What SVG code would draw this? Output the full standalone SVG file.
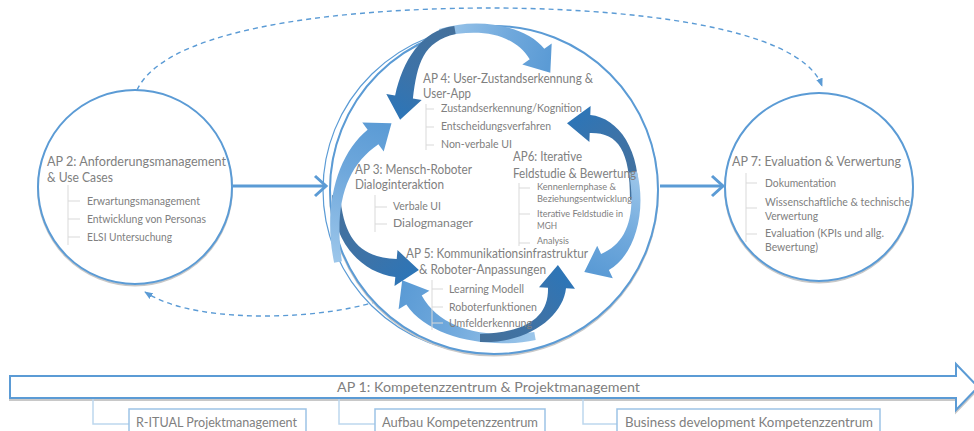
<svg xmlns="http://www.w3.org/2000/svg" width="974" height="431" viewBox="0 0 974 431">
  <style>
    .ring { fill: #ffffff; stroke: #5b9bd5; stroke-width: 2; }
    .ring-shadow { fill: none; stroke: #c8c8c8; stroke-width: 2; }
    text { font-family: Lato, "Liberation Sans", sans-serif; fill: #808080; }
    .head { font-size: 13.5px; }
    .item { font-size: 10.5px; }
    .small { font-size: 9.5px; }
    .tree { fill: none; stroke: #d9d9d9; stroke-width: 1; }
    .flow { fill: none; stroke: #5b9bd5; stroke-width: 3; }
    .dash { fill: none; stroke: #5b9bd5; stroke-width: 1.4; stroke-dasharray: 5 4; }
    .bar { font-size: 14px; }
    .box { fill: #ffffff; stroke: #9dc3e6; stroke-width: 1.5; }
    .link { fill: none; stroke: #bdd7ee; stroke-width: 1.5; }
  </style>
  <defs>
    <linearGradient id="lightStops">
      <stop offset="0" stop-color="#9cc6ea"/>
      <stop offset="0.6" stop-color="#6fa8dc"/>
      <stop offset="1" stop-color="#5b9bd5"/>
    </linearGradient>
    <linearGradient id="darkStops">
      <stop offset="0" stop-color="#44709b"/>
      <stop offset="0.6" stop-color="#3d73a8"/>
      <stop offset="1" stop-color="#2e75b6"/>
    </linearGradient>
    <linearGradient id="gT1" href="#darkStops" gradientUnits="userSpaceOnUse" x1="455" y1="30" x2="402" y2="115"/>
    <linearGradient id="gT2" href="#lightStops" gradientUnits="userSpaceOnUse" x1="440" y1="33" x2="548" y2="66"/>
    <linearGradient id="gR1" href="#darkStops" gradientUnits="userSpaceOnUse" x1="634" y1="200" x2="570" y2="124"/>
    <linearGradient id="gR2" href="#lightStops" gradientUnits="userSpaceOnUse" x1="633" y1="172" x2="588" y2="268"/>
    <linearGradient id="gB1" href="#darkStops" gradientUnits="userSpaceOnUse" x1="480" y1="338" x2="557" y2="270"/>
    <linearGradient id="gB2" href="#lightStops" gradientUnits="userSpaceOnUse" x1="535" y1="336" x2="404" y2="284"/>
    <linearGradient id="gL1" href="#lightStops" gradientUnits="userSpaceOnUse" x1="338" y1="262" x2="388" y2="126"/>
    <linearGradient id="gL2" href="#darkStops" gradientUnits="userSpaceOnUse" x1="336" y1="195" x2="415" y2="269"/>
    <marker id="dashTip" viewBox="0 0 10 10" refX="9" refY="5" markerWidth="6" markerHeight="6" orient="auto">
      <path d="M0,1 L10,5 L0,9 Z" fill="#5b9bd5"/>
    </marker>
  </defs>

  <rect width="974" height="431" fill="#ffffff"/>

  <!-- connectors between the work packages -->
  <g id="connectors">
    <path class="dash" d="M137,90 C170,20 380,8 490,8 C620,8 800,25 822,86" marker-end="url(#dashTip)"/>
    <path class="dash" d="M385,298 C340,318 200,328 145,292" marker-end="url(#dashTip)"/>
    <path class="flow" d="M232,186 L325,186"/>
    <path class="flow" d="M315,176 L326,186 L315,196"/>
    <path class="flow" d="M660,186 L722,186"/>
    <path class="flow" d="M712,176 L723,186 L712,196"/>
  </g>

  <!-- AP 2 -->
  <g id="ap2">
    <circle class="ring-shadow" cx="135" cy="188.5" r="97"/>
    <circle class="ring" cx="135" cy="187" r="97"/>
    <text class="head" x="47" y="166" textLength="179" lengthAdjust="spacingAndGlyphs">AP 2: Anforderungsmanagement</text>
    <text class="head" x="47" y="182" textLength="66" lengthAdjust="spacingAndGlyphs">&amp; Use Cases</text>
    <path class="tree" d="M68,185 V245 M68,201 H80 M68,219 H80 M68,237 H80"/>
    <text class="item" x="87" y="205" textLength="113" lengthAdjust="spacingAndGlyphs">Erwartungsmanagement</text>
    <text class="item" x="87" y="223" textLength="119" lengthAdjust="spacingAndGlyphs">Entwicklung von Personas</text>
    <text class="item" x="87" y="241" textLength="85" lengthAdjust="spacingAndGlyphs">ELSI Untersuchung</text>
  </g>

  <!-- central cycle with its four curved arrow pairs -->
  <g id="centre">
    <ellipse fill="none" stroke="#5b9bd5" stroke-width="1.2" cx="490" cy="190" rx="167" ry="164"/>
    <circle class="ring-shadow" cx="494" cy="191.5" r="164"/>
    <circle class="ring" cx="494" cy="190" r="164"/>

    <path fill="url(#gT2)" d="M438.9,29.1 C478.5,16.5 526,25.8 544.3,48.8 L551.7,43.6 L550.3,72.8 L522.3,64.4 L529.7,59.2 C514,34.2 481.5,27.5 441.1,36.9 Z"/>
    <path fill="url(#gT1)" d="M455.7,33.9 C423,41.6 417.2,63.2 412.9,98.5 L421.7,100 L400.1,119.7 L386.3,94 L395.1,95.5 C402.8,60.8 421,30.4 454.3,26.1 Z"/>

    <path fill="url(#gR1)" d="M630,199.8 C630.3,149.8 617.7,132.3 589.7,133 L589.4,142 L567,123.2 L590.6,106 L590.3,115 C618.3,117.7 641.7,150.2 638,200.2 Z"/>
    <path fill="url(#gR2)" d="M636.9,171.2 C647.6,213.8 633.2,256.6 608.9,270.1 L612.8,278.2 L584.3,272 L597.2,245.8 L601.1,253.9 C626.8,243.4 636.4,216.2 629.1,172.8 Z"/>

    <path fill="url(#gB2)" d="M535.7,339.9 C491,349.6 428.7,338.8 406.3,304.6 L398.6,309.3 L402.2,280.3 L429.4,290.7 L421.7,295.4 C441.3,331.2 489,338.4 534.3,332.1 Z"/>
    <path fill="url(#gB1)" d="M480,334 C530,332.3 548.7,314.7 548,287.7 L539,287.3 L557.9,265 L575,288.7 L566,288.3 C563.3,315.3 530,343.7 480,342 Z"/>

    <path fill="url(#gL2)" d="M340,194.8 C343.7,239.7 360.6,257.7 396.7,259 L397.5,250.1 L418.9,269.9 L394.5,285.9 L395.3,277 C359.4,272.3 332.3,240.3 332,195.2 Z"/>
    <path fill="url(#gL1)" d="M334.1,262.7 C322.4,206 337.6,154.1 367.6,129.8 L362.3,122.5 L391.5,123.3 L383.7,151.5 L378.4,144.2 C346.4,165.9 333.6,204 341.9,261.3 Z"/>
  </g>

  <g id="ap4">
    <text class="head" x="423" y="83" textLength="170" lengthAdjust="spacingAndGlyphs">AP 4: User-Zustandserkennung &amp;</text>
    <text class="head" x="423" y="98" textLength="48" lengthAdjust="spacingAndGlyphs">User-App</text>
    <path class="tree" d="M426,104 V150 M426,109 H434 M426,127 H434 M426,145 H434"/>
    <text class="item" x="441" y="112" textLength="141" lengthAdjust="spacingAndGlyphs">Zustandserkennung/Kognition</text>
    <text class="item" x="441" y="130" textLength="110" lengthAdjust="spacingAndGlyphs">Entscheidungsverfahren</text>
    <text class="item" x="441" y="148" textLength="71" lengthAdjust="spacingAndGlyphs">Non-verbale UI</text>
  </g>

  <g id="ap3">
    <text class="head" x="355" y="174" textLength="117" lengthAdjust="spacingAndGlyphs">AP 3: Mensch-Roboter</text>
    <text class="head" x="355" y="189" textLength="89" lengthAdjust="spacingAndGlyphs">Dialoginteraktion</text>
    <path class="tree" d="M375,195 V232 M375,207 H387 M375,224 H387"/>
    <text class="item" x="393" y="210" textLength="48" lengthAdjust="spacingAndGlyphs">Verbale UI</text>
    <text class="item" x="393" y="227" textLength="80" lengthAdjust="spacingAndGlyphs">Dialogmanager</text>
  </g>

  <g id="ap6">
    <text class="head" x="513" y="161" textLength="69" lengthAdjust="spacingAndGlyphs">AP6: Iterative</text>
    <text class="head" x="513" y="178" textLength="123" lengthAdjust="spacingAndGlyphs">Feldstudie &amp; Bewertung</text>
    <path class="tree" d="M519,183 V246 M519,188 H530 M519,214 H530 M519,243 H530"/>
    <text class="small" x="537" y="190" textLength="79" lengthAdjust="spacingAndGlyphs">Kennenlernphase &amp;</text>
    <text class="small" x="537" y="202" textLength="95" lengthAdjust="spacingAndGlyphs">Beziehungsentwicklung</text>
    <text class="small" x="537" y="217" textLength="86" lengthAdjust="spacingAndGlyphs">Iterative Feldstudie in</text>
    <text class="small" x="537" y="229" textLength="20" lengthAdjust="spacingAndGlyphs">MGH</text>
    <text class="small" x="537" y="244" textLength="32" lengthAdjust="spacingAndGlyphs">Analysis</text>
  </g>

  <g id="ap5">
    <text class="head" x="406" y="258" textLength="182" lengthAdjust="spacingAndGlyphs">AP 5: Kommunikationsinfrastruktur</text>
    <text class="head" x="419" y="274" textLength="127" lengthAdjust="spacingAndGlyphs">&amp; Roboter-Anpassungen</text>
    <path class="tree" d="M432,280 V330 M432,289 H443 M432,307 H443 M432,323 H443"/>
    <text class="item" x="449" y="293" textLength="75" lengthAdjust="spacingAndGlyphs">Learning Modell</text>
    <text class="item" x="449" y="311" textLength="88" lengthAdjust="spacingAndGlyphs">Roboterfunktionen</text>
    <text class="item" x="449" y="327" textLength="83" lengthAdjust="spacingAndGlyphs">Umfelderkennung</text>
  </g>

  <!-- AP 7 -->
  <g id="ap7">
    <circle class="ring-shadow" cx="819" cy="188.5" r="94"/>
    <circle class="ring" cx="819" cy="187" r="94"/>
    <text class="head" x="732" y="166" textLength="169" lengthAdjust="spacingAndGlyphs">AP 7: Evaluation &amp; Verwertung</text>
    <path class="tree" d="M746,173 V242 M746,183 H757 M746,208 H757 M746,234 H757"/>
    <text class="item" x="765" y="187" textLength="71" lengthAdjust="spacingAndGlyphs">Dokumentation</text>
    <text class="item" x="765" y="206" textLength="145" lengthAdjust="spacingAndGlyphs">Wissenschaftliche &amp; technische</text>
    <text class="item" x="765" y="220" textLength="53" lengthAdjust="spacingAndGlyphs">Verwertung</text>
    <text class="item" x="765" y="237" textLength="119" lengthAdjust="spacingAndGlyphs">Evaluation (KPIs und allg.</text>
    <text class="item" x="765" y="251" textLength="53" lengthAdjust="spacingAndGlyphs">Bewertung)</text>
  </g>

  <!-- AP 1 timeline arrow -->
  <g id="ap1">
    <polygon points="10,378 956,378 956,366 978,389 956,412 956,400 10,400" fill="none" stroke="#c8c8c8" stroke-width="2"/>
    <polygon points="10,376 956,376 956,364 978,387 956,410 956,398 10,398" fill="#ffffff" stroke="#5b9bd5" stroke-width="2"/>
    <text class="bar" x="337" y="392" textLength="303" lengthAdjust="spacingAndGlyphs">AP 1: Kompetenzzentrum &amp; Projektmanagement</text>
  </g>

  <g id="ap1-links">
    <path class="link" d="M93,399 V424 H129"/>
    <path class="link" d="M339,399 V424 H375"/>
    <path class="link" d="M583,399 V424 H617"/>
  </g>

  <g id="ap1-1">
    <rect class="box" x="129" y="409" width="177" height="30"/>
    <text class="bar" x="136" y="427" textLength="161" lengthAdjust="spacingAndGlyphs">R-ITUAL Projektmanagement</text>
  </g>
  <g id="ap1-2">
    <rect class="box" x="375" y="409" width="170" height="30"/>
    <text class="bar" x="382" y="427" textLength="156" lengthAdjust="spacingAndGlyphs">Aufbau Kompetenzzentrum</text>
  </g>
  <g id="ap1-3">
    <rect class="box" x="617" y="409" width="263" height="30"/>
    <text class="bar" x="625" y="427" textLength="248" lengthAdjust="spacingAndGlyphs">Business development Kompetenzzentrum</text>
  </g>
</svg>
